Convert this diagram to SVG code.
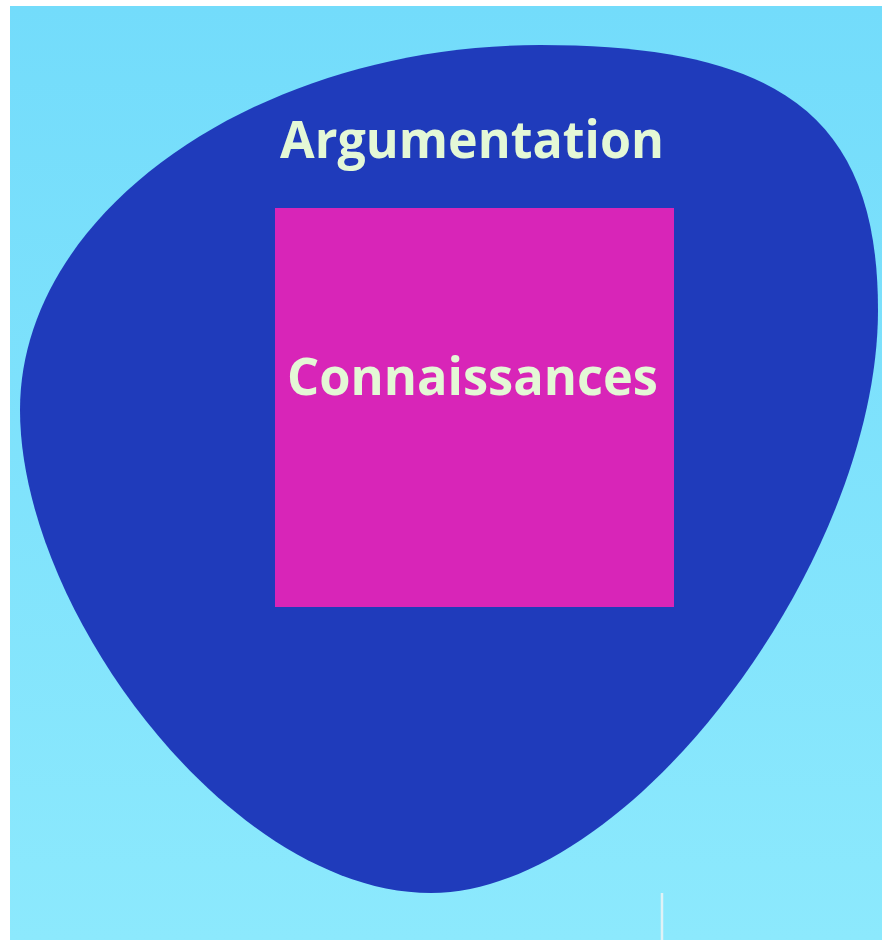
<svg xmlns="http://www.w3.org/2000/svg" width="885" height="940" viewBox="0 0 885 940">
  <defs>
    <linearGradient id="bg" x1="0" y1="0" x2="0" y2="1">
      <stop offset="0" stop-color="#73dcfb"/>
      <stop offset="1" stop-color="#8ce9fd"/>
    </linearGradient>
    <style>
      .label { font-family: "Open Sans", "Liberation Sans", sans-serif; font-weight: 700; font-size: 52px; fill: #e4f8d6; text-anchor: middle; }
    </style>
  </defs>
  <rect x="0" y="0" width="885" height="940" fill="#ffffff"/>
  <rect x="10" y="6" width="872" height="934" fill="url(#bg)"/>
  <g id="argumentation">
    <path fill="#1f3bbb" d="M540,45 C783,45 878,119 878,310 C878,560 631,893 431,893 C231,893 20,610 20,410 C20,210 260,45 540,45 Z"/>
    <text class="label" x="472" y="158" textLength="384" lengthAdjust="spacingAndGlyphs">Argumentation</text>
  </g>
  <g id="connaissances">
    <rect x="275" y="208" width="399" height="399" fill="#d825b8"/>
    <text class="label" x="472.5" y="395" textLength="371" lengthAdjust="spacingAndGlyphs">Connaissances</text>
  </g>
  <g id="connectors"/>
  <line x1="662" y1="893" x2="662" y2="940" stroke="#dff2f6" stroke-width="2.5"/>
</svg>
